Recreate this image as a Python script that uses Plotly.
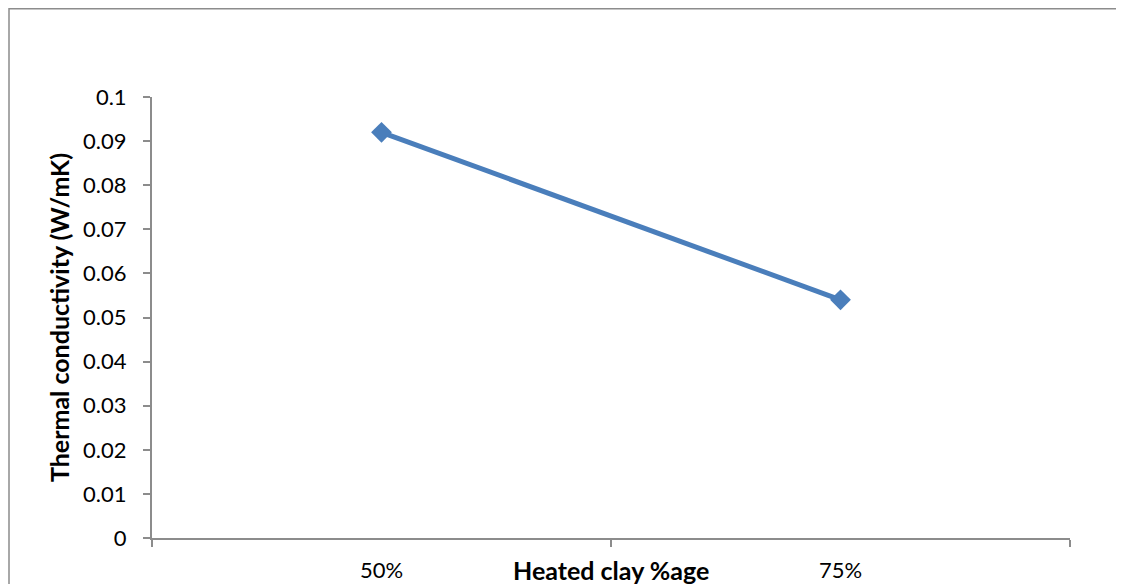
import plotly.graph_objects as go

categories = ["50%", "75%"]
conductivity = [0.092, 0.054]
y_ticks = [0, 0.01, 0.02, 0.03, 0.04, 0.05, 0.06, 0.07, 0.08, 0.09, 0.1]
y_tick_labels = ["0", "0.01", "0.02", "0.03", "0.04", "0.05", "0.06", "0.07", "0.08", "0.09", "0.1"]

FONT = "Lato, Open Sans, sans-serif"
AXIS_COLOR = "#8c8c8c"

fig = go.Figure()
fig.add_trace(go.Scatter(
    x=categories, y=conductivity, mode="lines+markers",
    line=dict(color="#4a7ebb", width=5),
    marker=dict(symbol="diamond", size=16, color="#4a7ebb"),
    showlegend=False,
))

# page body has an 8px margin, so figure pixel = screen pixel - 8
W, H = 1124, 584
L, T = 144, 89
R = W - 1062
B = H - 530
pw, ph = W - L - R, H - T - B

fig.update_layout(
    width=W, height=H,
    margin=dict(l=L, r=R, t=T, b=B, autoexpand=False),
    paper_bgcolor="white", plot_bgcolor="white",
    font=dict(family=FONT, size=22, color="black"),
    xaxis=dict(
        type="category", range=[-0.5, 1.5], tickson="boundaries",
        ticks="outside", ticklen=7, tickcolor=AXIS_COLOR, tickwidth=2,
        showline=True, linecolor=AXIS_COLOR, linewidth=2, automargin=False,
        showgrid=False, zeroline=False, ticklabelstandoff=12,
        tickfont=dict(size=22),
    ),
    yaxis=dict(
        range=[0, 0.1], tickvals=y_ticks, ticktext=y_tick_labels,
        ticks="outside", ticklen=7, tickcolor=AXIS_COLOR, tickwidth=2,
        showline=True, linecolor=AXIS_COLOR, linewidth=2, automargin=False,
        showgrid=False, zeroline=False, ticklabelstandoff=12,
        tickfont=dict(size=22),
        title=dict(text="<b>Thermal conductivity (W/mK)</b>", font=dict(size=25), standoff=6),
    ),
    shapes=[dict(
        type="rect", xref="paper", yref="paper",
        x0=(1 - L) / pw, x1=(W + 20 - L) / pw,
        y0=(H - B - (H + 40)) / ph, y1=(H - B - 0.75) / ph,
        line=dict(color="#8c8c8c", width=1.5), fillcolor="rgba(0,0,0,0)", layer="below",
    )],
    annotations=[dict(
        text="<b>Heated clay %age</b>", xref="paper", yref="paper",
        x=0.5, y=-(562 - (H - B)) / ph, xanchor="center", yanchor="middle",
        showarrow=False, font=dict(size=25),
    )],
)

fig.write_html("out.html")
